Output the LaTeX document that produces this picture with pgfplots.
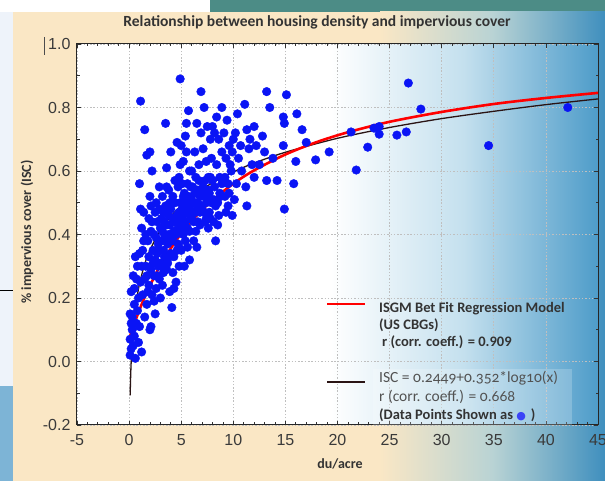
\documentclass[border=0pt]{standalone}
\usepackage{pgfplots}
\pgfplotsset{compat=1.18}
\usepackage{fontspec}
\setmainfont{Carlito}
\newfontfamily\arialf{Liberation Sans}
\newfontfamily\oldsf[Numbers=OldStyle]{Carlito}
\newfontfamily\dejavu{DejaVu Sans}
\definecolor{beige}{HTML}{FAE7C5}
\definecolor{panelblue}{HTML}{3F8FBE}
\definecolor{panelmid}{HTML}{B9D3D4}
\definecolor{plotblue}{HTML}{4E9CC9}
\definecolor{plotmid}{HTML}{C4E0EE}
\definecolor{txt}{HTML}{333333}
\definecolor{tick}{HTML}{3A3A3A}
\definecolor{dotblue}{HTML}{0A14F5}
\definecolor{fitblack}{HTML}{2A1414}
\definecolor{stripblue}{HTML}{7DB4D6}
\definecolor{stripwhite}{HTML}{EEF3FA}
\definecolor{topimg}{HTML}{4C8C86}
\begin{document}
\begin{tikzpicture}[x=1pt,y=1pt]
\useasboundingbox (0,0) rectangle (605,481);
\clip (0,0) rectangle (605,481);
% surroundings of the slide
\fill[white] (0,0) rectangle (605,481);
\fill[stripwhite] (0,95) rectangle (13,469);
\fill[stripblue] (0,0) rectangle (13,95);
\draw[black, line width=1pt] (0,190) -- (13,190);
\fill[topimg] (210,469) rectangle (605,481);
% beige panel with blue fade on the right
\fill[beige] (13,0) rectangle (605,469);
\shade[left color=beige, right color=panelblue, middle color=panelmid] (380,0) rectangle (605,469);
% plot area background
\fill[white] (77,56) rectangle (598,437);
\shade[left color=white, right color=plotblue, middle color=plotmid] (330,56) rectangle (598,437);
% cursor mark
\draw[gray!60!black, line width=1pt] (44.5,444) -- (44.5,426);
% title and axis titles
\node[font=\bfseries\fontsize{15.5}{17}\selectfont, text=txt] at (317,459) {Relationship between housing density and impervious cover};
\node[font=\bfseries\fontsize{14}{16}\selectfont, text=txt, rotate=90] at (27,249) {\% impervious cover (ISC)};
\node[font=\bfseries\fontsize{14}{16}\selectfont, text=txt] at (340,17) {du/acre};
\begin{axis}[
  at={(77pt,56pt)}, anchor=south west,
  width=521pt, height=381pt, scale only axis,
  xmin=-5, xmax=45, ymin=-0.2, ymax=1.0,
  xtick={-5,0,5,10,15,20,25,30,35,40,45},
  xticklabels={-5,0,5,10,15,20,25,30,35,40,45},
  ytick={-0.2,0,0.2,0.4,0.6,0.8,1.0},
  yticklabels={-0.2,0.0,0.2,0.4,0.6,0.8,1.0},
  minor x tick num=4, minor y tick num=1,
  major tick length=4pt, minor tick length=2.5pt,
  tick style={black!80, line width=0.7pt},
  axis line style={black!85, line width=1pt},
  grid=major,
  major grid style={gray!50, line width=0.8pt, dash pattern=on 1.5pt off 1.8pt},
  ticklabel style={font=\arialf\fontsize{16}{16}\selectfont, text=tick},
  yticklabel style={xshift=-3pt},
  xticklabel style={yshift=-6pt},
  axis background/.style={fill=none},
  clip=true,
]
\addplot[only marks, mark=*, mark size=4.3pt, color=dotblue] coordinates {
(0.1,0.02)(0.2,0.04)(0.1,0.07)(0.3,0.10)(0.2,0.12)(0.1,0.15)(0.4,0.05)(0.6,0.01)
(0.5,0.08)(0.3,0.14)(0.5,0.18)(0.2,0.22)(0.5,0.23)(0.7,0.12)(0.8,0.16)(0.9,0.20)
(0.4,0.27)(0.8,0.30)(1.0,0.34)(1.2,0.03)(0.9,0.06)(0.7,0.26)(1.0,0.11)(0.6,0.33)
(1.1,0.82)(1.5,0.73)(1.7,0.65)(2.0,0.66)(1.0,0.56)(1.3,0.35)(1.5,0.26)(1.7,0.18)
(1.2,0.42)(1.6,0.30)(1.8,0.38)(1.4,0.47)(1.9,0.45)(1.1,0.25)(1.8,0.22)(1.5,0.14)
(2.0,0.10)(1.6,0.40)(1.3,0.21)(1.9,0.33)
(2.2,0.60)(2.1,0.49)(2.2,0.44)(2.1,0.41)(2.1,0.29)(2.6,0.23)(2.9,0.26)(2.5,0.32)
(2.8,0.37)(2.4,0.40)(2.7,0.44)(2.9,0.48)(2.3,0.35)(2.6,0.50)(2.8,0.30)(2.5,0.47)
(2.1,0.11)(2.4,0.19)(2.7,0.34)(3.0,0.42)(2.9,0.55)(2.4,0.27)(2.6,0.39)
(3.5,0.75)(3.2,0.52)(3.9,0.33)(4.0,0.66)(3.3,0.47)(3.6,0.61)(3.1,0.45)(3.4,0.40)
(3.7,0.37)(3.9,0.43)(3.2,0.30)(3.5,0.49)(3.8,0.54)(3.3,0.35)(3.6,0.29)(3.9,0.50)
(3.1,0.38)(3.7,0.47)(3.4,0.44)(3.8,0.46)(3.5,0.38)(4.0,0.40)(3.2,0.24)(3.6,0.55)
(4.9,0.89)(4.6,0.69)(5.0,0.68)(4.5,0.25)(4.1,0.17)(4.8,0.30)(4.2,0.45)(4.4,0.50)
(4.7,0.55)(4.3,0.41)(4.9,0.62)(4.5,0.40)(4.8,0.47)(4.1,0.38)(4.6,0.35)(4.4,0.57)
(4.2,0.52)(4.7,0.42)(4.9,0.50)(4.3,0.33)(4.6,0.46)(4.0,0.48)(4.8,0.58)(4.5,0.45)
(4.2,0.28)(4.7,0.37)
(5.7,0.79)(5.5,0.75)(5.8,0.32)(5.6,0.36)(5.2,0.40)(5.4,0.44)(5.1,0.48)(5.9,0.50)
(5.3,0.53)(5.6,0.56)(5.8,0.60)(5.2,0.63)(5.5,0.66)(5.9,0.45)(5.1,0.56)(5.4,0.49)
(5.7,0.52)(5.3,0.42)(5.0,0.35)(5.6,0.51)(5.8,0.41)(5.4,0.71)(5.1,0.43)(5.9,0.55)
(5.2,0.46)(5.7,0.47)
(6.5,0.75)(6.9,0.85)(6.2,0.38)(6.8,0.52)(6.1,0.55)(6.4,0.58)(6.7,0.62)(6.3,0.66)
(6.6,0.44)(6.9,0.72)(6.0,0.45)(6.5,0.48)(6.8,0.43)(6.2,0.50)(6.6,0.54)(6.4,0.41)
(6.1,0.47)(6.7,0.57)(6.3,0.53)(6.9,0.49)(6.0,0.60)(6.5,0.36)
(7.2,0.80)(7.5,0.74)(7.8,0.70)(7.1,0.67)(7.4,0.63)(7.7,0.47)(7.3,0.57)(7.6,0.54)
(7.9,0.50)(7.0,0.48)(7.4,0.45)(7.8,0.58)(7.2,0.52)(7.6,0.42)(7.1,0.55)(7.9,0.64)
(7.5,0.51)(7.3,0.44)(7.7,0.53)(8.0,0.74)
(8.3,0.38)(8.1,0.44)(8.5,0.50)(8.2,0.55)(8.7,0.58)(8.4,0.62)(8.9,0.66)(8.6,0.70)
(8.2,0.72)(8.8,0.52)(8.9,0.80)(8.4,0.77)(8.6,0.46)(8.0,0.57)(8.7,0.53)(8.3,0.49)
(9.9,0.46)(9.2,0.52)(9.5,0.56)(9.8,0.60)(9.3,0.64)(9.6,0.68)(9.1,0.72)(9.9,0.66)
(9.4,0.76)(9.7,0.62)(9.2,0.58)(10.0,0.70)(9.5,0.49)
(10.2,0.72)(11.1,0.81)(11.2,0.55)(11.3,0.49)(11.3,0.73)(10.5,0.64)(10.8,0.60)
(11.5,0.67)(10.3,0.56)(10.7,0.68)(11.8,0.62)(12.0,0.74)(11.6,0.70)(10.4,0.78)(12.0,0.58)
(12.8,0.71)(13.0,0.66)(13.2,0.85)(13.5,0.80)(13.2,0.57)(14.2,0.57)(14.8,0.77)
(14.9,0.75)(14.8,0.68)(14.9,0.48)(15.1,0.84)(15.8,0.56)(16.0,0.63)(16.1,0.78)
(16.6,0.73)(17.0,0.69)(12.5,0.62)(13.8,0.64)(12.2,0.68)
(17.9,0.635)(19.2,0.66)(21.3,0.723)(21.8,0.603)(22.9,0.675)(23.5,0.735)(24.0,0.74)
(24.0,0.716)(25.7,0.713)(26.6,0.723)(26.8,0.877)(28.0,0.795)(34.5,0.68)(42.1,0.80)
(1.2,0.30)(1.4,0.38)(1.7,0.27)(1.9,0.24)(2.2,0.21)(2.3,0.31)(2.5,0.15)(2.7,0.27)
(2.9,0.35)(3.0,0.31)(3.2,0.41)(3.4,0.33)(3.6,0.43)(3.8,0.40)(3.0,0.20)(3.3,0.28)
(3.7,0.31)(4.0,0.34)(4.2,0.39)(4.4,0.44)(4.6,0.41)(4.8,0.36)(5.0,0.44)(5.2,0.52)
(5.4,0.38)(5.6,0.42)(5.8,0.48)(6.0,0.51)(6.2,0.44)(6.4,0.47)(6.6,0.50)(6.8,0.47)
(7.0,0.53)(7.2,0.47)(7.4,0.50)(7.6,0.58)(7.8,0.45)(8.1,0.51)(8.5,0.43)(8.9,0.56)
(9.3,0.47)(9.6,0.53)(10.1,0.51)(4.3,0.23)(5.3,0.30)(3.9,0.22)(2.0,0.52)(1.1,0.48)
};
% ISC = 0.2449+0.352*log10(x), values computed beforehand
\addplot[fitblack, line width=1.3pt, smooth] coordinates {
(0.1,-0.107)(0.15,-0.045)(0.2,-0.001)(0.3,0.061)(0.5,0.139)(0.7,0.190)(1,0.245)
(1.5,0.307)(2,0.351)(3,0.413)(4,0.457)(5,0.491)(6,0.519)(8,0.563)(10,0.597)
(12,0.625)(15,0.659)(20,0.703)(25,0.737)(30,0.765)(35,0.788)(40,0.809)(45,0.827)
};
% ISGM best fit curve
\addplot[red, line width=2.6pt, smooth] coordinates {
(0,0.070)(0.5,0.119)(1,0.163)(1.5,0.203)(2,0.239)(3,0.303)(4,0.356)(5,0.403)
(6,0.442)(7,0.477)(8,0.508)(10,0.560)(12,0.602)(15,0.652)(18,0.691)(21,0.722)
(25,0.755)(30,0.786)(35,0.811)(40,0.830)(45,0.846)
};
\end{axis}
% legend
\fill[white, opacity=0.2] (373,56) rectangle (572,112);
\draw[red, line width=2.6pt] (327,177) -- (365,177);
\draw[fitblack, line width=1.3pt] (327,99) -- (365,99);
\begin{scope}[every node/.style={anchor=base west, inner sep=0pt}]
\node[text=txt, font=\bfseries\fontsize{14.5}{16}\selectfont] at (379,168) {ISGM Bet Fit Regression Model};
\node[text=txt, font=\bfseries\fontsize{14.5}{16}\selectfont] at (379,151) {(US CBGs)};
\node[text=txt, font=\bfseries\fontsize{14.5}{16}\selectfont] at (382,134) {r (corr. coeff.) = 0.909};
\node[text=txt!85, font=\oldsf\fontsize{15.5}{16}\selectfont] at (379,98) {ISC = 0.2449+0.352*log10(x)};
\node[text=txt!85, font=\oldsf\fontsize{15.5}{16}\selectfont] at (379,79) {r (corr. coeff.) = 0.668};
\node[text=txt, font=\bfseries\fontsize{14.5}{16}\selectfont] at (379,61) {(Data Points Shown as \textcolor{dotblue!80}{\dejavu\fontsize{11}{11}\selectfont ●}\hspace{5pt})};
\end{scope}
\end{tikzpicture}
\end{document}
